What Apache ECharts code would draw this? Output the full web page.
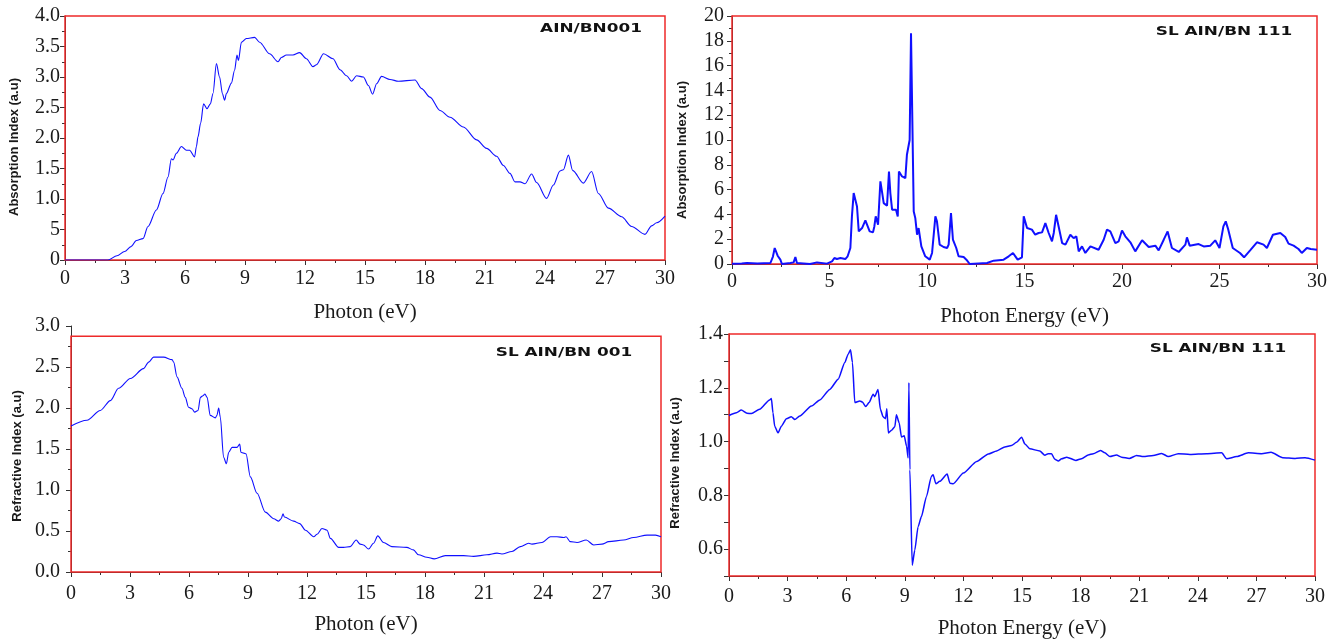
<!DOCTYPE html>
<html>
<head>
<meta charset="utf-8">
<title>Optical spectra of AlN/BN superlattices</title>
<script src="https://cdn.jsdelivr.net/npm/echarts@6/dist/echarts.min.js"></script>
<style>
  html, body { margin: 0; padding: 0; background: #ffffff; }
  #chart { width: 1341px; height: 641px; }
</style>
</head>
<body>
<div id="chart"></div>
<script>
// ---- Absorption index, AIN/BN001 (top left) ----
const absEnergy001 = [0, 1, 2, 2.15, 2.6, 2.98, 3.3, 3.57, 3.9, 4.15, 4.57, 4.9, 5.15, 5.32, 5.4, 5.57, 5.82, 6.07, 6.23, 6.48, 6.57, 6.65, 6.78, 6.93, 7.1, 7.27, 7.4, 7.57, 7.73, 7.87, 7.98, 8.07, 8.32, 8.48, 8.6, 8.67, 8.82, 9.07, 9.48, 9.73, 10.23, 10.65, 10.82, 11.07, 11.4, 11.73, 12.07, 12.4, 12.57, 12.93, 13.4, 13.75, 14.08, 14.33, 14.58, 14.92, 15.17, 15.38, 15.58, 15.83, 16.25, 16.67, 17.5, 17.83, 18.25, 18.75, 19.25, 19.92, 20.58, 21.08, 21.58, 21.92, 22.25, 22.5, 22.75, 23.0, 23.33, 23.58, 24.08, 24.42, 24.75, 24.92, 25.17, 25.38, 25.92, 26.33, 26.67, 27.17, 27.83, 28.33, 29.0, 29.33, 29.58, 30];
const absIndex001 = [0, 0, 0, 0, 0.07, 0.14, 0.22, 0.32, 0.35, 0.55, 0.82, 1.09, 1.36, 1.66, 1.64, 1.75, 1.86, 1.8, 1.8, 1.69, 1.86, 2.02, 2.24, 2.56, 2.48, 2.56, 2.73, 3.22, 3.0, 2.73, 2.62, 2.73, 2.9, 3.11, 3.36, 3.27, 3.57, 3.63, 3.65, 3.57, 3.38, 3.25, 3.32, 3.36, 3.36, 3.4, 3.3, 3.17, 3.2, 3.38, 3.3, 3.12, 3.02, 2.93, 3.02, 3.0, 2.86, 2.72, 2.89, 3.01, 2.96, 2.93, 2.95, 2.81, 2.67, 2.45, 2.34, 2.18, 1.97, 1.83, 1.7, 1.55, 1.42, 1.28, 1.28, 1.25, 1.41, 1.27, 1.01, 1.23, 1.46, 1.48, 1.72, 1.47, 1.26, 1.45, 1.09, 0.85, 0.71, 0.55, 0.42, 0.56, 0.61, 0.72];

// ---- Absorption index, SL AIN/BN 111 (top right) ----
const absEnergy111 = [0, 0.5, 0.77, 1.3, 1.97, 2.1, 2.19, 2.27, 2.34, 2.48, 2.56, 2.99, 3.16, 3.25, 3.33, 3.42, 4.0, 4.36, 4.87, 5.13, 5.25, 5.38, 5.56, 5.81, 5.93, 6.07, 6.15, 6.24, 6.32, 6.41, 6.5, 6.67, 6.84, 6.92, 7.06, 7.23, 7.3, 7.37, 7.44, 7.49, 7.54, 7.61, 7.69, 7.78, 7.95, 8.05, 8.12, 8.21, 8.29, 8.41, 8.5, 8.56, 8.63, 8.72, 8.89, 8.97, 9.11, 9.18, 9.25, 9.32, 9.4, 9.49, 9.57, 9.62, 9.71, 9.91, 10.14, 10.26, 10.43, 10.51, 10.65, 10.85, 11.03, 11.11, 11.23, 11.33, 11.5, 11.62, 11.88, 12.02, 12.19, 13.08, 13.42, 13.93, 14.19, 14.41, 14.53, 14.65, 14.87, 14.96, 15.04, 15.13, 15.38, 15.55, 15.72, 15.9, 16.07, 16.24, 16.41, 16.5, 16.62, 16.75, 16.93, 17.1, 17.35, 17.52, 17.66, 17.78, 17.95, 18.12, 18.38, 18.8, 19.06, 19.23, 19.4, 19.66, 19.83, 20.0, 20.17, 20.43, 20.68, 21.03, 21.37, 21.71, 21.88, 22.14, 22.34, 22.56, 22.91, 23.25, 23.33, 23.47, 23.93, 24.19, 24.53, 24.78, 25.0, 25.2, 25.32, 25.45, 25.68, 26.05, 26.26, 26.57, 26.92, 27.26, 27.43, 27.74, 28.12, 28.37, 28.54, 28.8, 29.05, 29.22, 29.48, 29.68, 30];
const absIndex111 = [0.02, 0.04, 0.08, 0.04, 0.08, 0.6, 1.29, 1.15, 0.67, 0.35, 0, 0.08, 0.13, 0.56, 0.08, 0, 0, 0.13, 0.03, 0.21, 0.48, 0.4, 0.48, 0.4, 0.62, 1.29, 3.84, 5.72, 5.72, 4.64, 2.63, 2.9, 3.52, 3.44, 2.63, 2.55, 3.03, 3.84, 3.44, 3.17, 4.64, 6.66, 5.85, 4.91, 4.7, 7.46, 5.72, 4.38, 4.51, 4.38, 3.84, 7.46, 7.33, 7.06, 6.93, 8.81, 10.0, 18.6, 18.6, 4.24, 3.7, 2.36, 2.9, 2.77, 1.42, 0.62, 0.35, 0.89, 3.84, 3.44, 1.56, 1.37, 1.29, 1.56, 4.11, 1.96, 1.29, 0.62, 0.56, 0.35, 0, 0.08, 0.27, 0.35, 0.62, 0.89, 0.62, 0.35, 0.54, 3.84, 3.7, 2.9, 2.77, 2.36, 2.5, 2.55, 3.3, 2.5, 1.83, 2.5, 3.97, 3.03, 1.69, 1.56, 2.36, 2.09, 2.23, 1.02, 1.42, 0.89, 1.42, 1.15, 1.96, 2.77, 2.63, 1.69, 1.83, 2.7, 2.23, 1.75, 1.02, 1.91, 1.37, 1.48, 1.1, 1.96, 2.63, 1.29, 0.97, 1.56, 2.15, 1.48, 1.61, 1.42, 1.48, 1.91, 1.29, 3.03, 3.44, 2.77, 1.29, 0.89, 0.54, 1.1, 1.75, 1.56, 1.29, 2.36, 2.5, 2.18, 1.64, 1.48, 1.21, 0.89, 1.29, 1.21, 1.15];

// ---- Refractive index, SL AIN/BN 001 (bottom left) ----
const refEnergy001 = [0, 0.81, 1.49, 2.0, 2.42, 3.02, 3.69, 3.95, 4.2, 4.71, 5.14, 5.22, 5.39, 5.64, 5.81, 5.98, 6.15, 6.29, 6.46, 6.58, 6.71, 6.81, 6.92, 7.08, 7.34, 7.42, 7.51, 7.59, 7.76, 7.9, 8.02, 8.19, 8.44, 8.58, 8.64, 8.78, 8.9, 9.12, 9.46, 9.88, 10.31, 10.56, 10.69, 10.78, 10.85, 11.32, 11.63, 11.92, 12.34, 12.51, 12.76, 13.02, 13.19, 13.61, 13.86, 14.2, 14.5, 14.7, 14.87, 15.13, 15.38, 15.6, 15.89, 16.31, 17.07, 17.41, 17.67, 18.09, 18.47, 19.03, 19.96, 20.47, 21.15, 21.66, 21.91, 22.42, 22.85, 23.27, 23.44, 23.95, 24.38, 24.71, 25.05, 25.17, 25.39, 25.73, 26.2, 26.58, 27.0, 27.34, 28.1, 28.61, 29.29, 29.72, 30];
const refIndex001 = [1.78, 1.85, 1.97, 2.09, 2.24, 2.36, 2.48, 2.56, 2.62, 2.62, 2.59, 2.56, 2.38, 2.24, 2.13, 2.01, 1.99, 1.95, 1.97, 2.13, 2.15, 2.17, 2.13, 1.91, 1.88, 1.91, 2.0, 1.89, 1.4, 1.32, 1.46, 1.52, 1.52, 1.56, 1.46, 1.45, 1.44, 1.16, 0.96, 0.73, 0.65, 0.62, 0.65, 0.71, 0.67, 0.62, 0.59, 0.51, 0.43, 0.46, 0.53, 0.51, 0.41, 0.3, 0.3, 0.31, 0.39, 0.34, 0.33, 0.28, 0.35, 0.44, 0.36, 0.31, 0.3, 0.27, 0.21, 0.18, 0.16, 0.2, 0.2, 0.19, 0.21, 0.23, 0.22, 0.25, 0.31, 0.35, 0.34, 0.36, 0.43, 0.43, 0.42, 0.43, 0.37, 0.36, 0.39, 0.33, 0.34, 0.37, 0.39, 0.42, 0.45, 0.45, 0.43];

// ---- Refractive index, SL AIN/BN 111 (bottom right) ----
const refEnergy111 = [0, 0.38, 0.63, 0.92, 1.15, 1.57, 2.08, 2.17, 2.25, 2.34, 2.51, 2.68, 2.94, 3.19, 3.37, 3.62, 4.22, 4.65, 5.16, 5.59, 5.93, 6.1, 6.22, 6.32, 6.44, 6.7, 6.83, 7.0, 7.17, 7.38, 7.46, 7.63, 7.75, 7.89, 8.01, 8.08, 8.16, 8.32, 8.49, 8.57, 8.71, 8.83, 8.97, 9.09, 9.17, 9.21, 9.26, 9.38, 9.51, 9.68, 9.85, 10.11, 10.36, 10.45, 10.59, 10.79, 11.17, 11.31, 11.48, 12.0, 12.68, 13.28, 13.7, 14.12, 14.46, 14.72, 14.98, 15.15, 15.4, 15.91, 16.17, 16.34, 16.51, 16.68, 16.86, 17.03, 17.29, 17.76, 18.05, 18.39, 18.65, 19.02, 19.24, 19.5, 19.84, 20.1, 20.49, 20.87, 21.21, 21.72, 22.15, 22.49, 23.0, 23.6, 24.45, 25.22, 25.48, 25.99, 26.59, 27.27, 27.75, 28.35, 28.98, 29.49, 30];
const refIndex111 = [1.097, 1.107, 1.117, 1.105, 1.104, 1.12, 1.155, 1.16, 1.107, 1.057, 1.032, 1.057, 1.085, 1.092, 1.082, 1.095, 1.132, 1.155, 1.194, 1.232, 1.294, 1.325, 1.341, 1.294, 1.145, 1.151, 1.147, 1.13, 1.145, 1.176, 1.167, 1.194, 1.12, 1.092, 1.085, 1.122, 1.032, 1.042, 1.055, 1.1, 1.07, 1.017, 1.022, 0.983, 0.939, 1.219, 0.895, 0.54, 0.596, 0.683, 0.721, 0.796, 0.87, 0.877, 0.843, 0.852, 0.879, 0.845, 0.843, 0.883, 0.926, 0.954, 0.965, 0.98, 0.985, 0.997, 1.016, 0.991, 0.973, 0.965, 0.949, 0.955, 0.955, 0.934, 0.928, 0.936, 0.942, 0.93, 0.936, 0.95, 0.955, 0.967, 0.958, 0.944, 0.95, 0.942, 0.937, 0.948, 0.944, 0.948, 0.956, 0.944, 0.955, 0.952, 0.955, 0.958, 0.936, 0.944, 0.958, 0.955, 0.96, 0.94, 0.937, 0.94, 0.931];

// ---- Axis ticks and panel text ----
const energyTicksAbs111 = 5;   // x tick step, top-right panel
const energyTicks = 3;         // x tick step, other panels
const panelLabels = ['AIN/BN001', 'SL AIN/BN 111', 'SL AIN/BN 001', 'SL AIN/BN 111'];
const xNames = ['Photon (eV)', 'Photon Energy (eV)', 'Photon (eV)', 'Photon Energy (eV)'];
const yNames = ['Absorption Index (a.u)', 'Absorption Index (a.u)', 'Refractive Index (a.u)', 'Refractive Index (a.u)'];
// upper edge of the plotting frame in each panel (data units)
const frameTop = [4.0, 20, 2.875, 1.4];
const frameBottom = [0, 0, 0, 0.5];

const zip = (xs, ys) => xs.map((x, i) => [x, ys[i]]);

const INK = '#1a1a1a';
const FRAME = '#ee2a2a';
const LINE = '#1010ff';
const SERIF = '"Liberation Serif", "Times New Roman", serif';
const SANS = '"Liberation Sans", Arial, sans-serif';

const grids = [
  { left: 65, top: 16, width: 600, height: 244 },
  { left: 732, top: 16, width: 585, height: 248 },
  { left: 71, top: 326, width: 590, height: 246 },
  { left: 729, top: 334, width: 586, height: 242 }
];

function xAxis(i, interval, labelMargin) {
  return {
    type: 'value', gridIndex: i, min: 0, max: 30, interval: interval,
    name: xNames[i], nameLocation: 'middle', nameGap: 42,
    nameTextStyle: { fontFamily: SERIF, fontSize: 21, color: INK },
    axisLine: { show: true, onZero: false, lineStyle: { color: '#333', width: 1 } },
    axisTick: { show: true, length: 5, lineStyle: { color: '#333' } },
    minorTick: { show: true, splitNumber: 2, length: 3, lineStyle: { color: '#333' } },
    splitLine: { show: false },
    axisLabel: { fontFamily: SERIF, fontSize: 20, color: INK, margin: labelMargin }
  };
}

function yAxis(i, min, max, interval, minorSplit, formatter, labelMargin, nameGap, namePad) {
  return {
    type: 'value', gridIndex: i, min: min, max: max, interval: interval,
    name: yNames[i], nameLocation: 'middle', nameGap: nameGap, nameRotate: 90,
    nameTextStyle: { fontFamily: SANS, fontSize: 13, fontWeight: 'bold', color: INK, padding: [0, namePad, 0, 0] },
    axisLine: { show: true, onZero: false, lineStyle: { color: '#333', width: 1 } },
    axisTick: { show: true, length: 5, lineStyle: { color: '#333' } },
    minorTick: { show: minorSplit > 1, splitNumber: minorSplit, length: 3, lineStyle: { color: '#333' } },
    splitLine: { show: false },
    axisLabel: { fontFamily: SERIF, fontSize: 20, color: INK, margin: labelMargin, formatter: formatter }
  };
}

const fmtAbs001 = v => (v === 0 ? '0' : Math.abs(v - 0.5) < 1e-9 ? '5' : v.toFixed(1));
const fmtOne = v => v.toFixed(1);
const fmtInt = v => String(Math.round(v));
const fmtEven = v => (Math.round(v * 10) % 2 === 0 ? v.toFixed(1) : '');

function lineSeries(i, data, width, smooth) {
  return {
    type: 'line', xAxisIndex: i, yAxisIndex: i, data: data,
    showSymbol: false, smooth: smooth, smoothMonotone: 'x',
    lineStyle: { color: LINE, width: width }, z: 3,
    markArea: {
      silent: true,
      itemStyle: { color: 'rgba(0,0,0,0)', borderColor: FRAME, borderWidth: 1.5 },
      data: [[{ coord: [0, frameBottom[i]] }, { coord: [30, frameTop[i]] }]]
    }
  };
}

function panelLabel(i, x, y) {
  return {
    type: 'text', x: x, y: y, scaleX: 1.35, z: 10,
    style: {
      text: panelLabels[i], fill: '#111',
      font: 'bold 12.5px "DejaVu Sans", "Liberation Sans", sans-serif',
      textAlign: 'center', textVerticalAlign: 'middle'
    }
  };
}

const chart = echarts.init(document.getElementById('chart'), null, { renderer: 'canvas' });
chart.setOption({
  animation: false,
  backgroundColor: '#ffffff',
  grid: grids,
  xAxis: [
    xAxis(0, energyTicks, 9),
    xAxis(1, energyTicksAbs111, 8),
    xAxis(2, energyTicks, 12),
    xAxis(3, energyTicks, 11)
  ],
  yAxis: [
    yAxis(0, 0, 4.0, 0.5, 2, fmtAbs001, 5, 44, 18),
    yAxis(1, 0, 20, 2, 2, fmtInt, 8, 43, 20),
    yAxis(2, 0, 3.0, 0.5, 2, fmtOne, 11, 47, 14),
    yAxis(3, 0.5, 1.4, 0.1, 1, fmtEven, 6, 47, 16)
  ],
  series: [
    lineSeries(0, zip(absEnergy001, absIndex001), 1.1, 0.3),
    lineSeries(1, zip(absEnergy111, absIndex111), 2, false),
    lineSeries(2, zip(refEnergy001, refIndex001), 1.1, 0.3),
    lineSeries(3, zip(refEnergy111, refIndex111), 1.5, 0.2)
  ],
  graphic: [
    panelLabel(0, 591, 29),
    panelLabel(1, 1224, 32),
    panelLabel(2, 564, 353),
    panelLabel(3, 1218, 349)
  ]
});
</script>
</body>
</html>
